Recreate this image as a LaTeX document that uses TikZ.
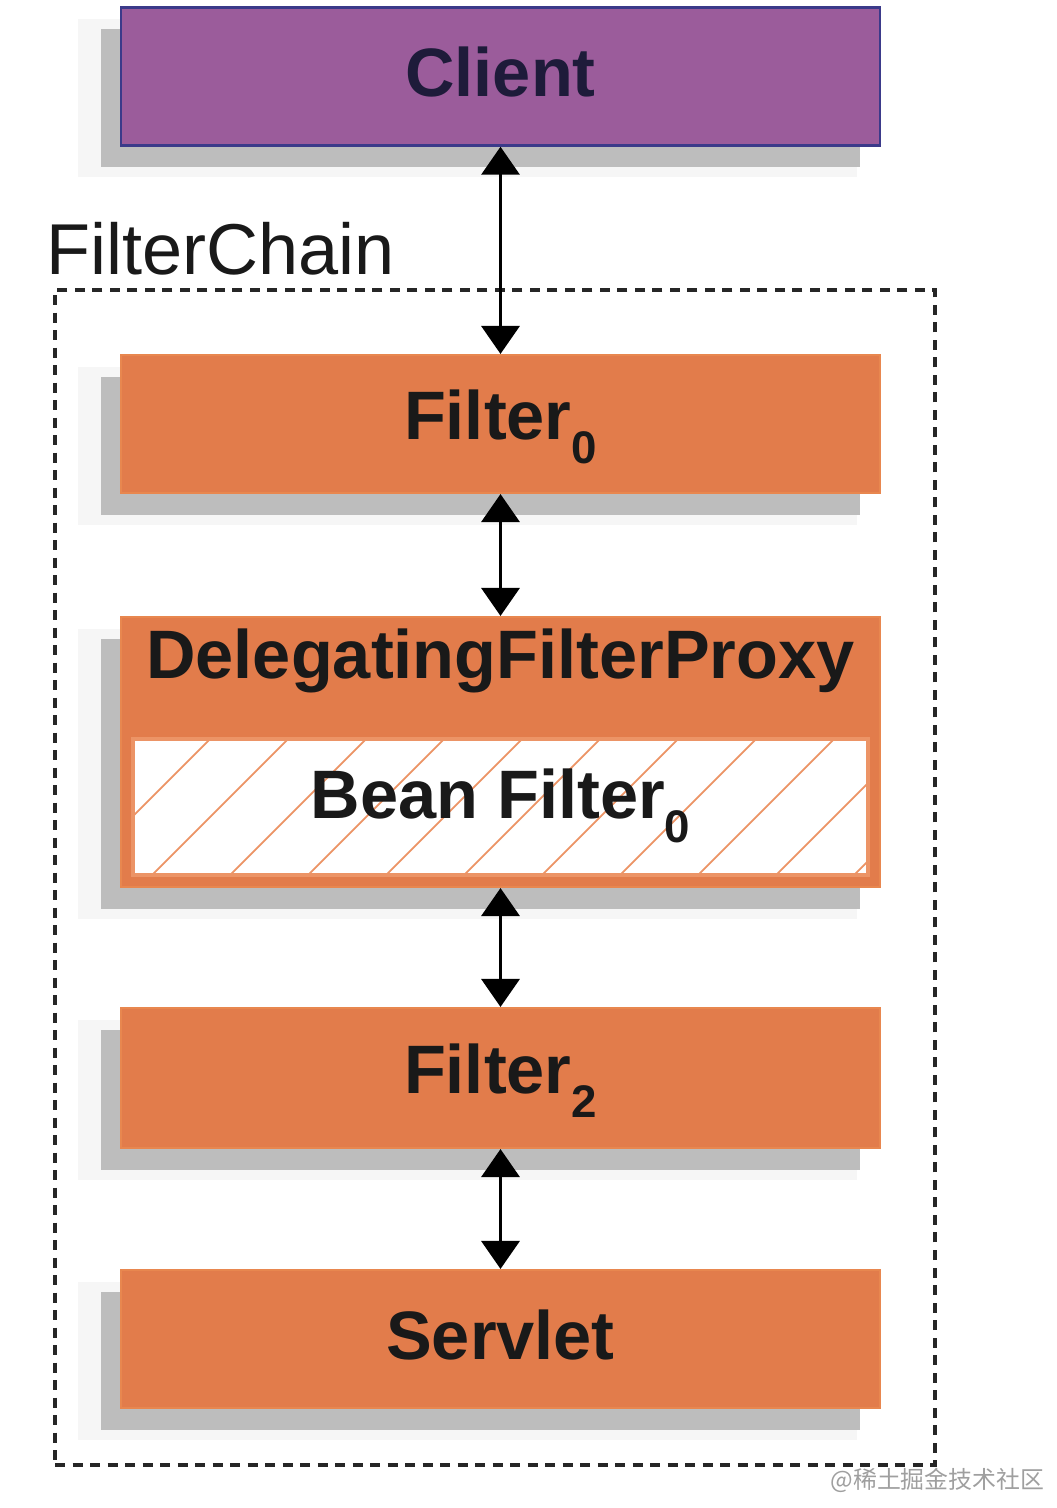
\documentclass[tikz,border=0pt]{standalone}
\usepackage{fontspec}
\setmainfont{Liberation Sans}
\newfontfamily\cjkfont{Noto Sans CJK SC}
\usetikzlibrary{arrows.meta,positioning,shadows}
\definecolor{clientfill}{HTML}{9B5C9B}
\definecolor{clientline}{HTML}{3B3A8A}
\definecolor{clienttext}{HTML}{1E1B3A}
\definecolor{filterfill}{HTML}{E27C4B}
\definecolor{filterline}{HTML}{E8874F}
\definecolor{hatchcol}{HTML}{EC9466}
\definecolor{boxshadow}{HTML}{BDBDBD}
\newcommand{\lowidx}[1]{\raisebox{-0.24cm}{\fontsize{13}{13}\selectfont #1}}
\begin{document}
\begin{tikzpicture}[>={Triangle[length=2.8mm,width=3.8mm]},
  box/.style={minimum width=7.59cm, minimum height=1.38cm, inner sep=0pt,
    text height=0.47cm, text depth=0.06cm, text=black!90,
    font=\fontsize{19.5}{22}\selectfont\bfseries,
    drop shadow={shadow xshift=-0.33cm, shadow yshift=-0.22cm, fill=gray!7, draw=gray!7, line width=0.2cm, opacity=1},
    drop shadow={shadow xshift=-0.2cm, shadow yshift=-0.22cm, fill=boxshadow, opacity=1}},
  clientbox/.style={box, fill=clientfill, draw=clientline, line width=0.7pt, text=clienttext},
  filterbox/.style={box, fill=filterfill, draw=filterline, line width=0.6pt},
  beanbox/.style={minimum width=7.35cm, minimum height=1.36cm, inner sep=0pt,
    text height=0.47cm, text depth=0.24cm, text=black!90,
    font=\fontsize{19.5}{22}\selectfont\bfseries, fill=white, draw=hatchcol, line width=1pt,
    path picture={\foreach \k in {-2,...,9}
      \draw[hatchcol, line width=0.5pt] ([xshift=0.19cm+\k*0.78cm]path picture bounding box.south west) -- ++(1.5,1.5);}},
  chainbox/.style={draw=black!85, line width=0.9pt, dash pattern=on 0.1cm off 0.075cm,
    minimum width=8.8cm, minimum height=11.75cm, inner sep=0pt},
  link/.style={<->, line width=1pt, black}]
\useasboundingbox (0,0) rectangle (10.56,-15.08);
% dashed chain frame and its caption
\node[chainbox] (chain) at (4.95,-8.775) {};
\node[anchor=base west, inner sep=0pt, font=\fontsize{20.5}{24}\selectfont, text=black!90] (chainlabel) at (0.46,-2.75) {FilterChain};
% boxes
\node[clientbox] (client) at (5.005,-0.765) {Client};
\node[filterbox, text depth=0.16cm] (filter0) at (5.005,-4.24) {Filter\lowidx{0}};
\node[filterbox, minimum height=2.70cm] (proxy) at (5.005,-7.52) {};
\node[inner sep=0pt, text height=0.47cm, text depth=0pt, text=black!90,
  font=\fontsize{19.5}{22}\selectfont\bfseries] (title) [below=0.15cm of proxy.north] {DelegatingFilterProxy};
\node[beanbox] (bean) [below=0.58cm of title] {Bean Filter\lowidx{0}};
\node[filterbox, text depth=0.16cm, minimum height=1.40cm] (filter2) at (5.005,-10.78) {Filter\lowidx{2}};
\node[filterbox] (servlet) at (5.005,-13.39) {Servlet};
% arrows
\draw[link] (client) -- (filter0);
\draw[link] (filter0) -- (proxy);
\draw[link] (proxy) -- (filter2);
\draw[link] (filter2) -- (servlet);
% watermark
\node[anchor=east, inner sep=0pt, text=gray!75, font=\cjkfont\fontsize{6.8}{8}\selectfont] (mark) at (10.45,-14.80) {@稀土掘金技术社区};
\end{tikzpicture}
\end{document}
